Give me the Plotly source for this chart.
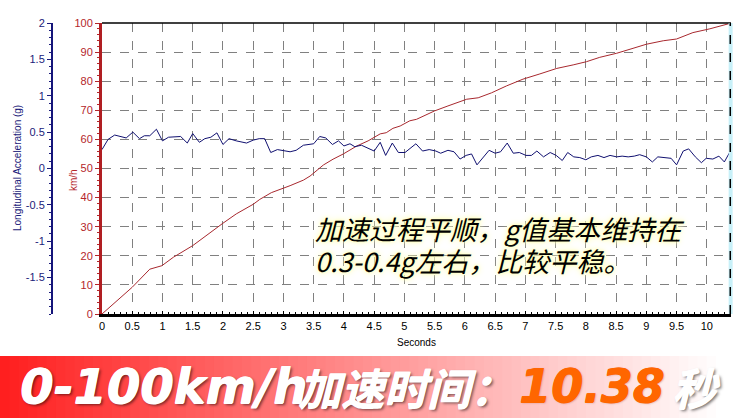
import plotly.graph_objects as go

# ---------------- data ----------------
acc_time = [0.0, 0.1, 0.21, 0.4, 0.51, 0.62, 0.7, 0.79, 0.9, 1.0,
            1.1, 1.3, 1.41, 1.5, 1.61, 1.7, 1.8, 1.9, 2.0, 2.1,
            2.22, 2.39, 2.5, 2.6, 2.69, 2.79, 2.9, 3.0, 3.11, 3.21,
            3.33, 3.5, 3.6, 3.7, 3.81, 3.91, 4.0, 4.1, 4.18, 4.29,
            4.4, 4.5, 4.6, 4.69, 4.8, 4.9, 5.01, 5.19, 5.3, 5.41,
            5.52, 5.6, 5.72, 5.82, 5.92, 6.02, 6.11, 6.2, 6.4, 6.5,
            6.59, 6.7, 6.8, 6.9, 7.01, 7.1, 7.19, 7.3, 7.41, 7.51,
            7.61, 7.7, 7.8, 7.9, 8.0, 8.09, 8.2, 8.3, 8.4, 8.51,
            8.6, 8.7, 8.8, 8.89, 9.0, 9.1, 9.19, 9.31, 9.41, 9.5,
            9.61, 9.7, 9.81, 9.91, 9.99, 10.1, 10.2, 10.29, 10.39]
acc_g = [0.26, 0.40, 0.46, 0.42, 0.50, 0.41, 0.45, 0.45, 0.54, 0.38,
         0.43, 0.44, 0.35, 0.48, 0.36, 0.41, 0.43, 0.49, 0.33, 0.41,
         0.38, 0.35, 0.39, 0.41, 0.41, 0.22, 0.26, 0.25, 0.23, 0.25,
         0.32, 0.34, 0.44, 0.42, 0.33, 0.38, 0.31, 0.34, 0.30, 0.32,
         0.28, 0.24, 0.36, 0.18, 0.35, 0.22, 0.22, 0.34, 0.24, 0.26,
         0.24, 0.21, 0.25, 0.23, 0.13, 0.18, 0.20, 0.05, 0.25, 0.21,
         0.23, 0.35, 0.21, 0.22, 0.18, 0.18, 0.24, 0.16, 0.22, 0.18,
         0.11, 0.22, 0.16, 0.15, 0.12, 0.16, 0.18, 0.15, 0.18, 0.16,
         0.17, 0.16, 0.17, 0.19, 0.16, 0.09, 0.16, 0.15, 0.14, 0.05,
         0.24, 0.27, 0.16, 0.08, 0.14, 0.13, 0.17, 0.09, 0.24]

speed_time = [0, 0.5, 0.79, 0.99, 1.18, 1.5, 2.0, 2.22, 2.5, 2.61,
              2.8, 3.0, 3.11, 3.33, 3.44, 3.66, 3.82, 3.99, 4.21, 4.4,
              4.6, 4.7, 4.81, 4.93, 5.09, 5.2, 5.5, 5.72, 6.03, 6.22,
              6.44, 6.69, 6.96, 7.24, 7.52, 7.79, 8.01, 8.23, 8.51, 8.78,
              9.0, 9.28, 9.5, 9.77, 10.05, 10.39]
speed_kmh = [0, 9.2, 15.4, 16.6, 19.5, 23.5, 31.2, 34.4, 37.7, 39.4,
             41.7, 43.2, 44.1, 46.0, 47.4, 51.2, 53.2, 55.0, 57.7, 59.5,
             61.9, 62.3, 63.8, 64.6, 66.4, 66.9, 69.8, 71.5, 73.8, 74.3,
             76.0, 78.4, 80.7, 82.5, 84.4, 85.6, 86.7, 88.2, 89.6, 91.3,
             92.7, 93.9, 94.5, 96.7, 98.0, 99.9]

x_ticks = [i * 0.5 for i in range(21)]
x_ticklabels = ["0", "0.5", "1", "1.5", "2", "2.5", "3", "3.5", "4", "4.5", "5",
                "5.5", "6", "6.5", "7", "7.5", "8", "8.5", "9", "9.5", "10"]
kmh_ticks = list(range(0, 101, 10))
g_ticks = [2, 1.5, 1, 0.5, 0, -0.5, -1, -1.5]
g_ticklabels = ["2", "1.5", "1", "0.5", "0", "-0.5", "-1", "-1.5"]

note_line1 = "加速过程平顺，g值基本维持在"
note_line2 = "0.3-0.4g左右，比较平稳。"
banner_parts = ["0-100km/h", "加速时间：", "10.38", "秒"]

# ---------------- geometry ----------------
W, H = 744, 418
ML, MR, MT, MB = 0, 13, 23, 104
PW = W - ML - MR        # 731
PH = H - MT - MB        # 291
x0_px = 102             # left edge of data area


def px(xp):
    return xp / PW


def py(yp):
    return (MT + PH - yp) / PH


NAVY = "#1b1b7a"
RED = "#b4262b"

fig = go.Figure()

fig.add_trace(go.Scatter(x=speed_time, y=speed_kmh, mode="lines",
                         line=dict(color="#a8282e", width=1), yaxis="y",
                         hoverinfo="skip", showlegend=False))
fig.add_trace(go.Scatter(x=acc_time, y=acc_g, mode="lines",
                         line=dict(color="#101070", width=1), yaxis="y2",
                         hoverinfo="skip", showlegend=False))

# banner gradient (style strips)
shapes = []
n = 80
for i in range(n):
    a = i / n
    b = (i + 1) / n
    xm = (a + b) / 2 * W
    f = min(1.0, xm / 720.0)
    g = int(round(30 + 225 * f))
    shapes.append(dict(type="rect", xref="paper", yref="paper",
                       x0=px(a * W), x1=px(b * W) + 0.002,
                       y0=py(H + 2), y1=py(356),
                       fillcolor=f"rgb(255,{g},{g})", line=dict(width=0),
                       layer="below"))

# top border and right cursor line
shapes.append(dict(type="line", xref="paper", yref="paper",
                   x0=px(x0_px), x1=1, y0=1, y1=1,
                   line=dict(color="black", width=1.5)))
shapes.append(dict(type="line", xref="paper", yref="paper",
                   x0=0.9995, x1=0.9995, y0=0, y1=1,
                   line=dict(color="#c8f0f8", width=4)))
shapes.append(dict(type="line", xref="paper", yref="paper",
                   x0=0.999, x1=0.999, y0=0, y1=1,
                   line=dict(color="black", width=1.5, dash="dash")))

annotations = [
    dict(text="Longitudinal Acceleration (g)", xref="paper", yref="paper",
         x=px(17), y=py(168), textangle=-90, showarrow=False,
         font=dict(family="Liberation Sans", size=10, color=NAVY),
         xanchor="center", yanchor="middle"),
    dict(text="km/h", xref="paper", yref="paper",
         x=px(73), y=py(180), textangle=-90, showarrow=False,
         font=dict(family="Liberation Sans", size=10, color=RED),
         xanchor="center", yanchor="middle"),
    dict(text="Seconds", xref="paper", yref="paper",
         x=px(416), y=py(342), showarrow=False,
         font=dict(family="Liberation Sans", size=10, color="black"),
         xanchor="center", yanchor="middle"),
]

glow = "0 0 3px #ffffa0, 0 0 6px #ffffc0, 0 0 8px #ffffd0"
for txt, yc in [(note_line1, 229), (note_line2, 260)]:
    annotations.append(dict(text=f"<i>{txt}</i>", xref="paper", yref="paper",
                            x=px(313), y=py(yc), xanchor="left", yanchor="middle",
                            showarrow=False,
                            font=dict(family="Noto Sans CJK SC", size=27,
                                      color="black", shadow=glow)))

shadow_w = "0.8px 0 0 #fff, 0 0.6px 0 #fff, 2px 2px 3px rgba(0,0,0,0.55)"
shadow_o = "0.8px 0 0 #ff6600, 0 0.6px 0 #ff6600, 1px 1px 2px rgba(120,40,0,0.35)"
banner_specs = [
    (banner_parts[0], 18, "DejaVu Sans", 48, "white", shadow_w),
    (banner_parts[1], 296, "Noto Sans CJK SC", 43, "white", shadow_w),
    (banner_parts[2], 517, "DejaVu Sans", 46, "#ff6600", shadow_o),
    (banner_parts[3], 670, "Noto Sans CJK SC", 44, "white", shadow_w),
]
for txt, xl, fam, sz, col, sh in banner_specs:
    annotations.append(dict(text=f"<b><i>{txt}</i></b>", xref="paper", yref="paper",
                            x=px(xl), y=py(386), xanchor="left", yanchor="middle",
                            showarrow=False,
                            font=dict(family=fam, size=sz, color=col,
                                      shadow=sh, weight="bold")))

fig.update_layout(
    width=W, height=H,
    margin=dict(l=ML, r=MR, t=MT, b=MB, pad=0, autoexpand=False),
    paper_bgcolor="white", plot_bgcolor="white",
    showlegend=False,
    xaxis=dict(domain=[px(x0_px), 1], range=[0, 10.4], automargin=False,
               tickvals=x_ticks, ticktext=x_ticklabels,
               tickfont=dict(family="Liberation Sans", size=11, color="black"),
               showline=True, linecolor="black", linewidth=3,
               ticks="inside", ticklen=3, tickcolor="black",
               minor=dict(ticks="inside", ticklen=2, dtick=0.1, tickcolor="black", showgrid=False),
               showgrid=True, gridcolor="#808080", griddash="dash", gridwidth=1,
               zeroline=False, fixedrange=True),
    yaxis=dict(range=[0, 100], tickvals=kmh_ticks, automargin=False,
               tickfont=dict(family="Liberation Sans", size=11, color=RED),
               showline=True, linecolor="#b01e22", linewidth=3,
               ticks="outside", ticklen=4, tickcolor=RED,
               minor=dict(ticks="outside", ticklen=2, dtick=2, tickcolor=RED, showgrid=False),
               showgrid=True, gridcolor="#808080", griddash="dash", gridwidth=1,
               zeroline=False, anchor="x"),
    yaxis2=dict(range=[-2, 2], overlaying="y", anchor="free", position=px(52),
                side="left", tickvals=g_ticks, ticktext=g_ticklabels, automargin=False,
                tickfont=dict(family="Liberation Sans", size=11, color=NAVY),
                showline=True, linecolor="#15157a", linewidth=2,
                ticks="outside", ticklen=4, tickcolor=NAVY,
                minor=dict(ticks="outside", ticklen=2, dtick=0.1, tickcolor=NAVY, showgrid=False),
                showgrid=False, zeroline=False),
    shapes=shapes,
    annotations=annotations,
)

fig.write_html("out.html", config={"displayModeBar": False},
               post_script="document.body.style.margin='0';document.body.style.padding='0';")
